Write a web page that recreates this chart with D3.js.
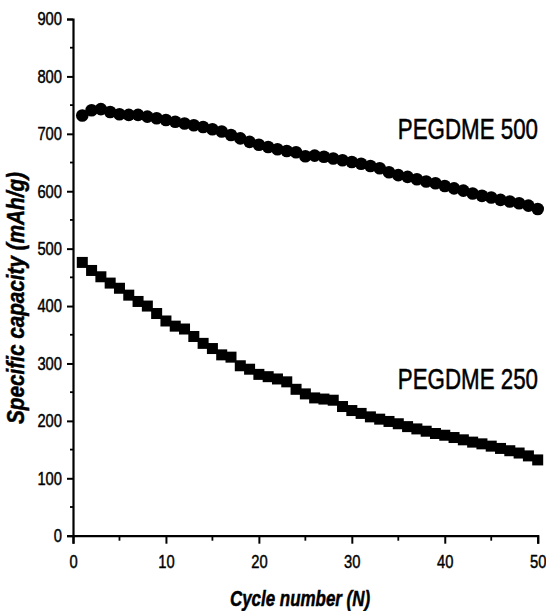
<!DOCTYPE html>
<html>
<head>
<meta charset="utf-8">
<script src="https://cdn.jsdelivr.net/npm/d3@7"></script>
<style>
  html, body { margin: 0; padding: 0; background: #fff; }
  svg { display: block; }
  .tick text { font-family: "Liberation Sans", Arial, sans-serif; font-size: 18px; fill: #000; stroke: #000; stroke-width: 0.45px; }
  .lbl { fill: #000; stroke: #000; stroke-width: 0.5px; }
</style>
</head>
<body>
<svg id="chart" width="546" height="611"></svg>
<script>
// Cycle index 1..50
const cycles = d3.range(1, 51);

// Specific capacity (mAh/g) per cycle
const pegdme500 = [
  732, 741, 743, 738, 734, 733, 733, 730, 727, 724,
  721, 718, 715, 712, 708, 704, 698, 692, 686, 681,
  677, 673, 670, 668, 661, 662, 660, 657, 654, 651,
  648, 644, 640, 633, 628, 625, 621, 617, 614, 609,
  605, 601, 596, 592, 589, 585, 582, 579, 575, 569
];
const pegdme250 = [
  476, 462, 451, 440, 431, 419, 408, 400, 387, 374,
  365, 360, 347, 335, 326, 315, 311, 296, 290, 281,
  277, 273, 268, 255, 247, 240, 238, 236, 225, 218,
  213, 207, 203, 199, 195, 190, 186, 182, 178, 175,
  171, 167, 163, 160, 156, 152, 148, 144, 139, 132
];

const xTicks = [0, 10, 20, 30, 40, 50];
const yTicks = [0, 100, 200, 300, 400, 500, 600, 700, 800, 900];
const seriesLabels = ["PEGDME 500", "PEGDME 250"];

// Horizontal squeeze giving a condensed look to the sans-serif text
const narrow = 0.82;

const svg = d3.select("#chart");
const x = d3.scaleLinear().domain([0, 50]).range([73, 537.7]);
const y = d3.scaleLinear().domain([0, 900]).range([535.7, 19]);

// Axes: major ticks with labels, minor ticks at the midpoints
const xAxis = d3.axisBottom(x).tickValues(xTicks).tickSize(8).tickPadding(12);
const yAxis = d3.axisLeft(y).tickValues(yTicks).tickSize(6).tickPadding(5);

const gx = svg.append("g").attr("transform", `translate(0,${y(0)})`).call(xAxis);
const gy = svg.append("g").attr("transform", `translate(${x(0)},0)`).call(yAxis);

[gx, gy].forEach(g => {
  g.select(".domain").attr("stroke", "#000").attr("stroke-width", 2.2);
  g.selectAll(".tick line").attr("stroke", "#000").attr("stroke-width", 2);
});

gx.selectAll(".tick text").attr("transform", `scale(${narrow},1)`);
gy.selectAll(".tick text")
  .attr("x", -11 / narrow)
  .attr("transform", `scale(${narrow},1)`);

const xMinor = d3.range(5, 50, 10);
const yMinor = d3.range(50, 900, 100);
gx.selectAll(".minor").data(xMinor).join("line")
  .attr("x1", d => x(d)).attr("x2", d => x(d))
  .attr("y1", 0).attr("y2", 5)
  .attr("stroke", "#000").attr("stroke-width", 1.8);
gy.selectAll(".minor").data(yMinor).join("line")
  .attr("y1", d => y(d)).attr("y2", d => y(d))
  .attr("x1", 0).attr("x2", -3)
  .attr("stroke", "#000").attr("stroke-width", 1.8);

// Circles: PEGDME 500
svg.append("g").selectAll("circle")
  .data(cycles.map((c, i) => [c, pegdme500[i]]))
  .join("circle")
  .attr("cx", d => x(d[0]))
  .attr("cy", d => y(d[1]))
  .attr("r", 6.3)
  .attr("fill", "#000");

// Squares: PEGDME 250
const sq = 11;
svg.append("g").selectAll("rect")
  .data(cycles.map((c, i) => [c, pegdme250[i]]))
  .join("rect")
  .attr("x", d => x(d[0]) - sq / 2)
  .attr("y", d => y(d[1]) - sq / 2)
  .attr("width", sq)
  .attr("height", sq)
  .attr("fill", "#000");

// Series labels
const labelFont = "'Liberation Sans', Arial, sans-serif";
svg.append("text").attr("class", "lbl")
  .attr("transform", "translate(538,139) scale(0.77,1)")
  .attr("text-anchor", "end")
  .style("font-family", labelFont).style("font-size", "29px")
  .text(seriesLabels[0]);
svg.append("text").attr("class", "lbl")
  .attr("transform", "translate(538,389) scale(0.77,1)")
  .attr("text-anchor", "end")
  .style("font-family", labelFont).style("font-size", "29px")
  .text(seriesLabels[1]);

// Axis titles
svg.append("text").attr("class", "lbl")
  .attr("transform", "translate(300,606) scale(0.77,1)")
  .attr("text-anchor", "middle")
  .style("font-family", labelFont).style("font-size", "22px")
  .style("font-weight", "bold").style("font-style", "italic")
  .text("Cycle number (N)");
svg.append("text").attr("class", "lbl")
  .attr("transform", "translate(24,298) rotate(-90) scale(0.9,1)")
  .attr("text-anchor", "middle")
  .style("font-family", labelFont).style("font-size", "23px")
  .style("font-weight", "bold").style("font-style", "italic")
  .text("Specific capacity (mAh/g)");
</script>
</body>
</html>
